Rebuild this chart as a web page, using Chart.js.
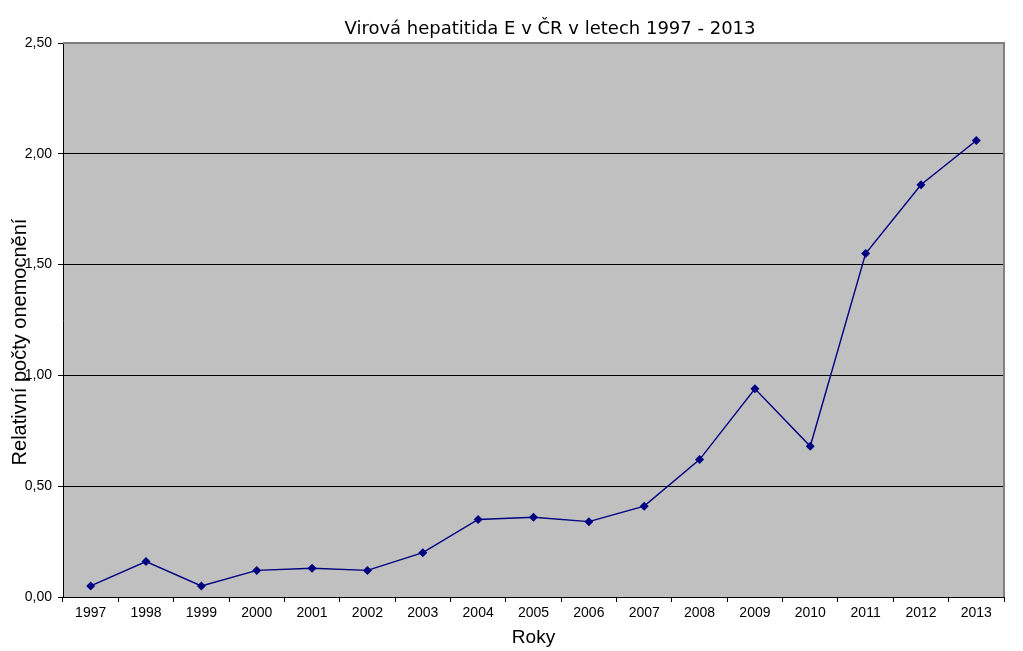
<!DOCTYPE html>
<html>
<head>
<meta charset="utf-8">
<script src="https://cdn.jsdelivr.net/npm/chart.js@4"></script>
<style>
  html, body { margin: 0; padding: 0; background: #fff; }
  #wrap { width: 1023px; height: 651px; }
</style>
</head>
<body>
<div id="wrap"><canvas id="myChart" width="1023" height="651"></canvas></div>
<script>
// data
const roky = ['1997','1998','1999','2000','2001','2002','2003','2004','2005','2006','2007','2008','2009','2010','2011','2012','2013'];
const hodnoty = [0.05, 0.16, 0.05, 0.12, 0.13, 0.12, 0.20, 0.35, 0.36, 0.34, 0.41, 0.62, 0.94, 0.68, 1.55, 1.86, 2.06];
const yTicks = [0, 0.5, 1, 1.5, 2, 2.5];

const nadpis = 'Virová hepatitida E v ČR v letech 1997 - 2013';
const yNazev = 'Relativní počty onemocnění';

// gray plot background + border, title and y axis title
const plotBg = {
  id: 'plotBg',
  beforeDraw(chart) {
    const { ctx, chartArea: a } = chart;
    ctx.save();
    ctx.fillStyle = '#c0c0c0';
    ctx.fillRect(a.left, a.top, a.right - a.left, a.bottom - a.top);
    ctx.restore();
  },
  afterDraw(chart) {
    const { ctx, chartArea: a } = chart;
    ctx.save();
    ctx.strokeStyle = '#808080';
    ctx.lineWidth = 2;
    ctx.beginPath();
    ctx.moveTo(a.left, a.top);
    ctx.lineTo(a.right, a.top);
    ctx.lineTo(a.right, a.bottom);
    ctx.stroke();
    ctx.fillStyle = '#000';
    ctx.font = '18px "DejaVu Sans"';
    ctx.textAlign = 'center';
    ctx.textBaseline = 'alphabetic';
    ctx.fillText(nadpis, 550, 34);
    // y title, rotated
    ctx.translate(20, 342);
    ctx.rotate(-Math.PI / 2);
    ctx.font = '20px "Liberation Sans"';
    ctx.textBaseline = 'middle';
    ctx.fillText(yNazev, 0, 0);
    ctx.restore();
  }
};

new Chart(document.getElementById('myChart'), {
  type: 'line',
  data: {
    labels: roky,
    datasets: [{
      data: hodnoty,
      borderColor: '#000080',
      backgroundColor: '#000080',
      borderWidth: 1.4,
      pointStyle: 'rectRot',
      pointRadius: 4.5,
      pointBorderWidth: 0,
      tension: 0
    }]
  },
  options: {
    responsive: false,
    animation: false,
    layout: { padding: { top: 43, right: 19, left: 0, bottom: 0 } },
    plugins: { legend: { display: false }, title: { display: false }, tooltip: { enabled: false } },
    scales: {
      x: {
        offset: true,
        afterFit(s) { s.height = 54; },
        grid: { offset: true, drawOnChartArea: false, drawTicks: true, tickLength: 5, tickColor: '#000' },
        border: { color: '#000', width: 1 },
        ticks: { color: '#000', font: { family: 'Liberation Sans', size: 14 }, padding: 3, maxRotation: 0, autoSkip: false },
        title: { display: true, text: 'Roky', color: '#000', font: { family: 'Liberation Sans', size: 19 }, padding: { top: 0, bottom: 2 } }
      },
      y: {
        min: 0, max: 2.5,
        afterFit(s) { s.width = 63; },
        afterBuildTicks(s) { s.ticks = yTicks.map(v => ({ value: v })); },
        grid: {
          color: c => (c.tick && (c.tick.value === 0 || c.tick.value === 2.5)) ? 'rgba(0,0,0,0)' : '#000',
          tickColor: '#000', tickLength: 5, lineWidth: 1
        },
        border: { color: '#000', width: 1 },
        ticks: {
          color: '#000', font: { family: 'Liberation Sans', size: 14 }, padding: 6,
          callback: v => v.toFixed(2).replace('.', ',')
        }
      }
    }
  },
  plugins: [plotBg]
});
</script>
</body>
</html>
